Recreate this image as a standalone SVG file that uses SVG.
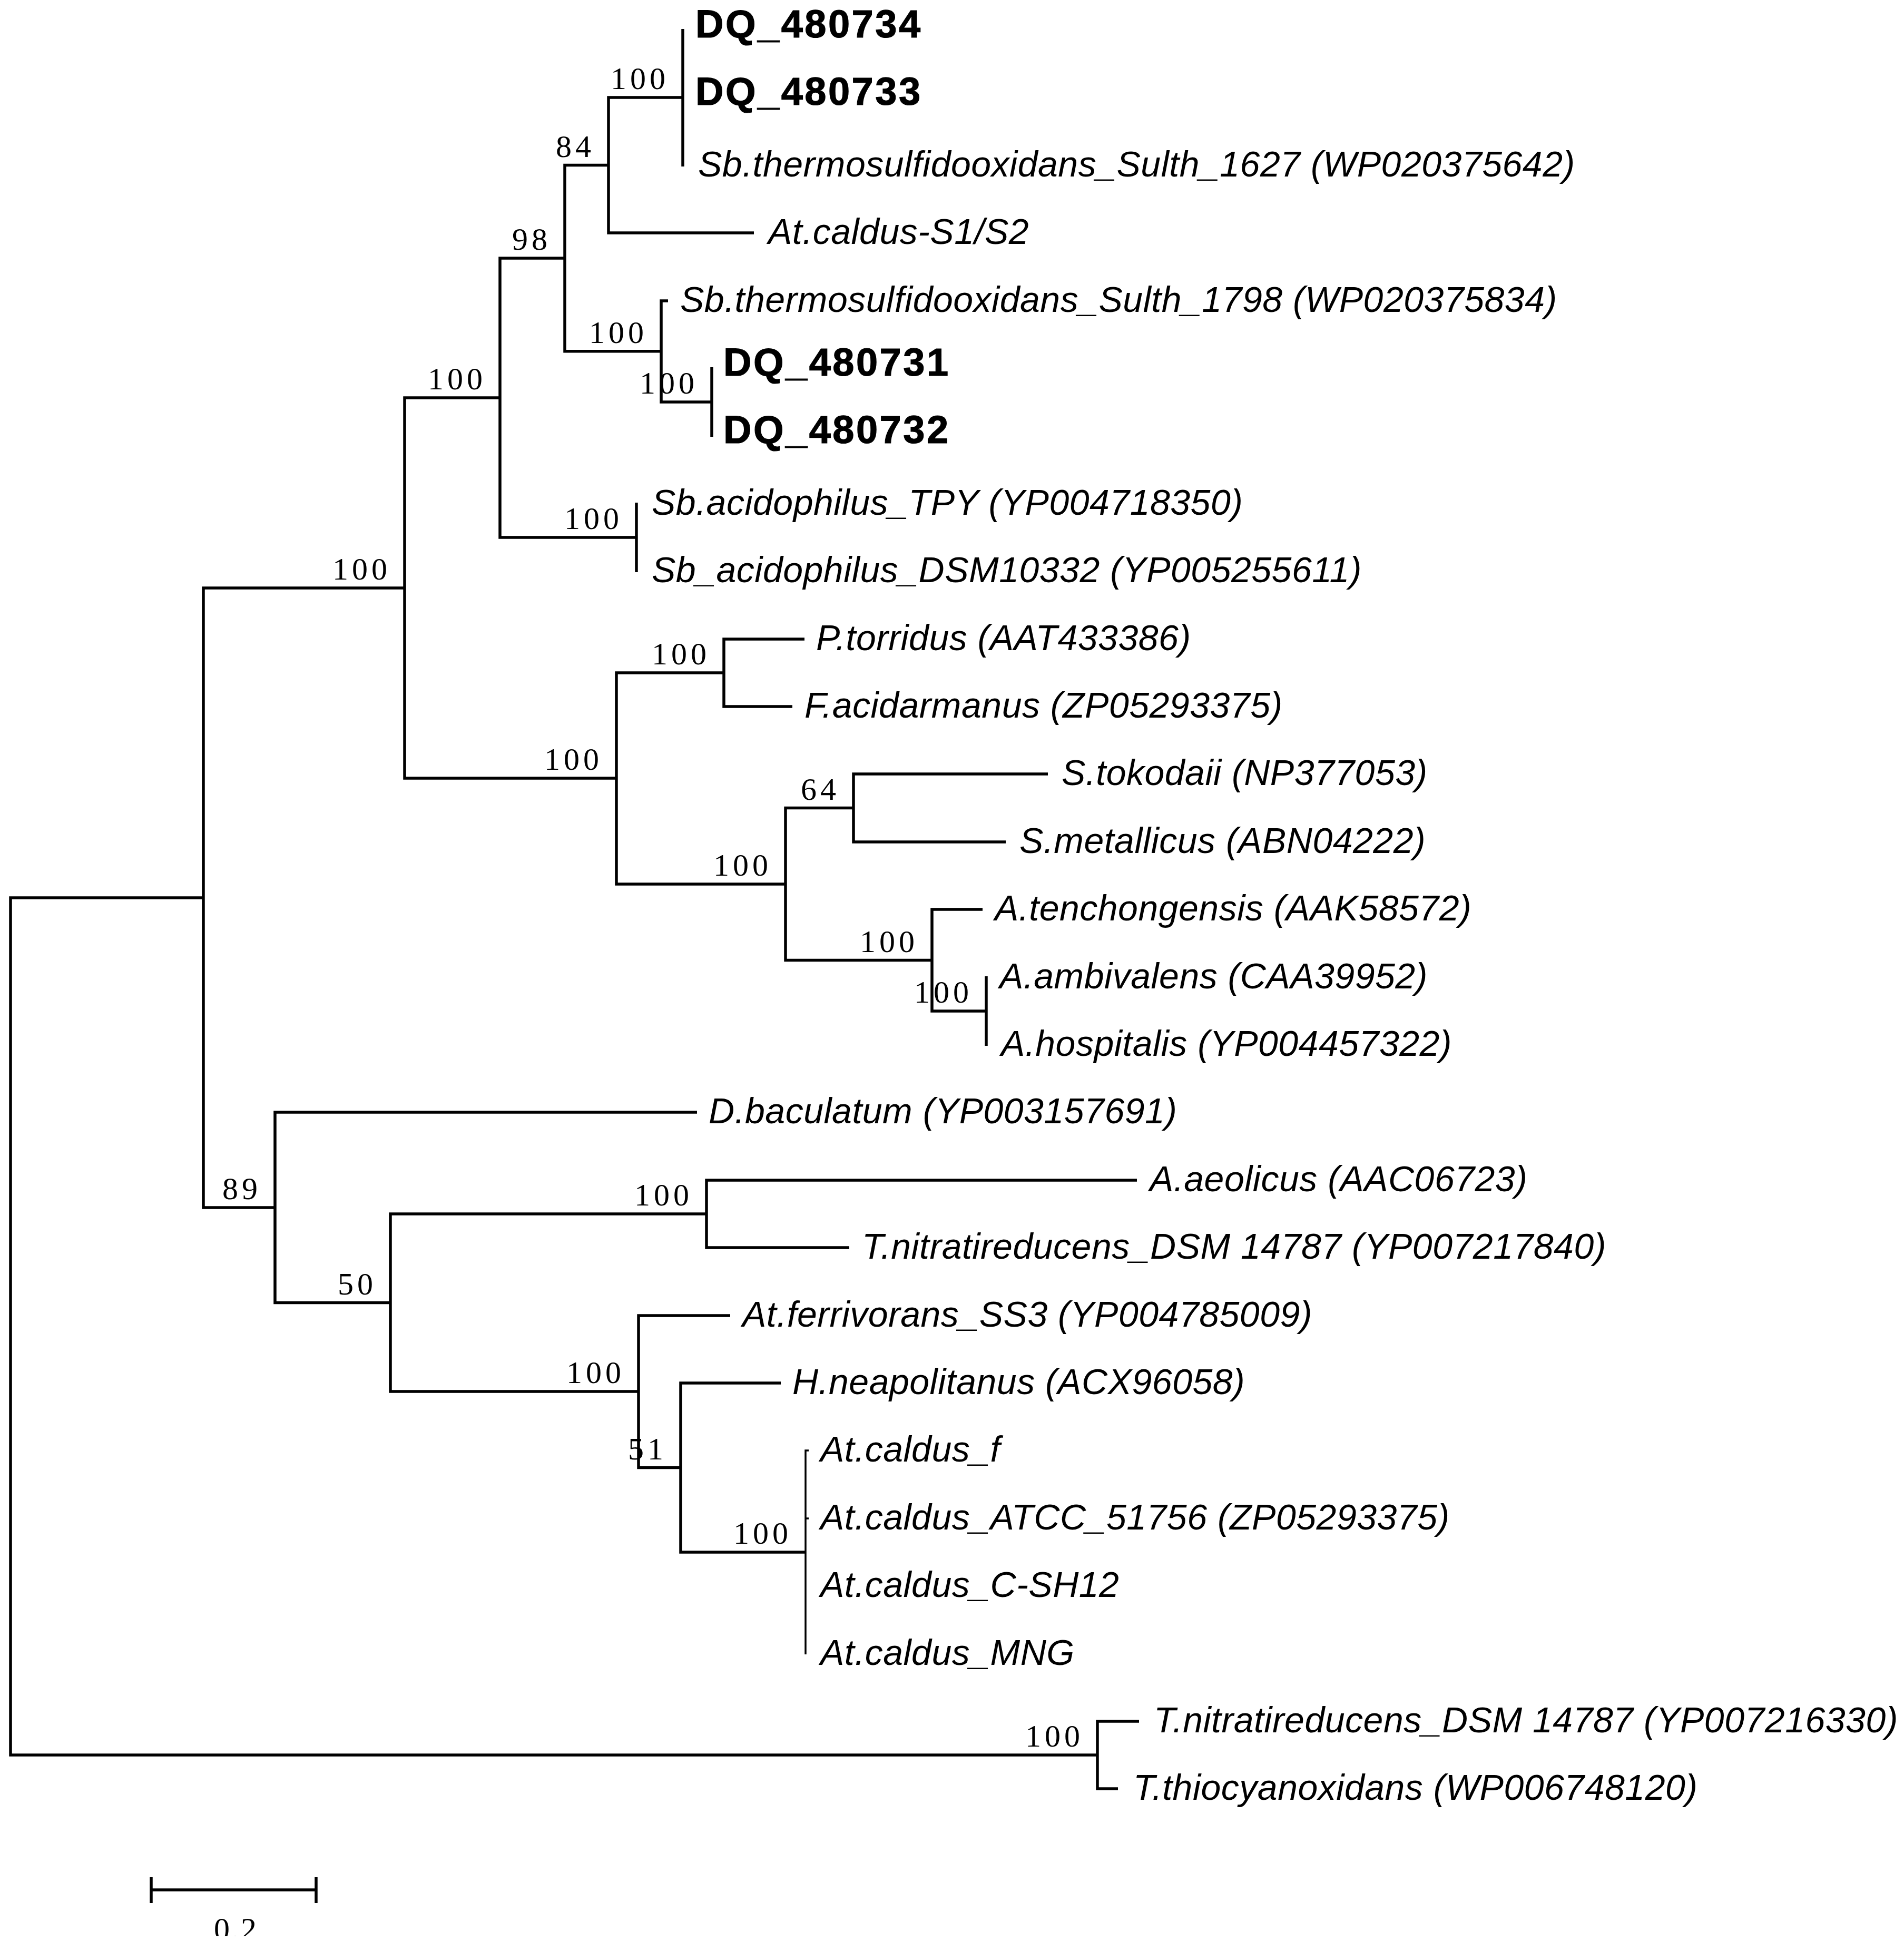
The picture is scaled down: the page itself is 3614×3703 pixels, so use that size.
<svg xmlns="http://www.w3.org/2000/svg" width="3614" height="3703" viewBox="0 0 3614 3703">
<style>
.br{fill:none;stroke:#000;stroke-width:5.5;stroke-linejoin:miter;stroke-linecap:butt}
.thin{stroke-width:3.5}
.tx{font-family:"Liberation Sans",Arial,sans-serif;font-style:italic;font-size:68px;letter-spacing:0.5px;fill:#000}
.bd{font-family:"Liberation Sans",Arial,sans-serif;font-weight:bold;font-size:74px;letter-spacing:3.5px;fill:#000;stroke:#000;stroke-width:1.2px}
.bs{font-family:"Liberation Serif","Times New Roman",serif;font-size:60px;letter-spacing:7px;fill:#000;text-anchor:end}
</style>
<defs><clipPath id="cut"><rect x="0" y="3600" width="900" height="75"/></clipPath></defs>
<rect width="3614" height="3703" fill="#fff"/>
<g id="connectors">
<path class="br" d="M1296,55 V316"/>
<path class="br" d="M1296,185 H1155 V442 H1431"/>
<path class="br" d="M1268,571 H1255 V763 H1351"/>
<path class="br" d="M1351,697 V829"/>
<path class="br" d="M1155,313.5 H1072 V666.8 H1255"/>
<path class="br" d="M1208,954 V1086"/>
<path class="br" d="M1072,490 H949 V1020 H1208"/>
<path class="br" d="M1527,1213 H1374 V1341 H1504"/>
<path class="br" d="M1989,1469 H1620 V1598 H1909"/>
<path class="br" d="M1872,1853 V1985"/>
<path class="br" d="M1865,1726 H1769 V1919 H1872"/>
<path class="br" d="M1620,1533.6 H1491 V1822.5 H1769"/>
<path class="br" d="M1374,1277 H1170 V1678 H1491"/>
<path class="br" d="M949,755 H768 V1477 H1170"/>
<path class="br" d="M768,1116 H386 V2292 H522"/>
<path class="br" d="M1323,2111 H522 V2472.5 H741"/>
<path class="br" d="M1341,2304 H741 V2641 H1212"/>
<path class="br" d="M2158,2240 H1341 V2368 H1612"/>
<path class="br" d="M1386,2497 H1212 V2785.5 H1292"/>
<path class="br" d="M1482,2625 H1292 V2946 H1529"/>
<path class="br thin" d="M1535,2753 H1529 V3140 M1529,2882 H1535"/>
<path class="br" d="M2162,3267 H2083 V3395 H2122"/>
<path class="br" d="M386,1704 H20 V3331 H2083"/>
</g>
<g id="internal-nodes">
<g id="n-dq34"><text class="bs" x="1270" y="169">100</text></g>
<g id="n-84"><text class="bs" x="1129" y="297.5">84</text></g>
<g id="n-1798"><text class="bs" x="1229" y="650.8">100</text></g>
<g id="n-dq31"><text class="bs" x="1325" y="747">100</text></g>
<g id="n-98"><text class="bs" x="1046" y="474">98</text></g>
<g id="n-sbacid"><text class="bs" x="1182" y="1004">100</text></g>
<g id="n-sb"><text class="bs" x="923" y="739">100</text></g>
<g id="n-ptorr"><text class="bs" x="1348" y="1261">100</text></g>
<g id="n-64"><text class="bs" x="1594" y="1517.6">64</text></g>
<g id="n-aamb"><text class="bs" x="1846" y="1902.8">100</text></g>
<g id="n-atench"><text class="bs" x="1743" y="1806.5">100</text></g>
<g id="n-sulfo"><text class="bs" x="1465" y="1662">100</text></g>
<g id="n-arch"><text class="bs" x="1144" y="1461.4">100</text></g>
<g id="n-top"><text class="bs" x="742" y="1100">100</text></g>
<g id="n-aaeol"><text class="bs" x="1315" y="2288">100</text></g>
<g id="n-caldus"><text class="bs" x="1503" y="2930">100</text></g>
<g id="n-51"><text class="bs" x="1266" y="2769.5">51</text></g>
<g id="n-ferri"><text class="bs" x="1186" y="2625">100</text></g>
<g id="n-50"><text class="bs" x="715" y="2456.5">50</text></g>
<g id="n-89"><text class="bs" x="496" y="2276">89</text></g>
<g id="n-tnit"><text class="bs" x="2057" y="3315">100</text></g>
</g>
<g id="taxa">
<g id="t0"><text class="bd" x="1320" y="71">DQ_480734</text></g>
<g id="t1"><text class="bd" x="1320" y="199">DQ_480733</text></g>
<g id="t2"><text class="tx" x="1325" y="335">Sb.thermosulfidooxidans_Sulth_1627 (WP020375642)</text></g>
<g id="t3"><text class="tx" x="1458" y="463">At.caldus-S1/S2</text></g>
<g id="t4"><text class="tx" x="1291" y="592">Sb.thermosulfidooxidans_Sulth_1798 (WP020375834)</text></g>
<g id="t5"><text class="bd" x="1373" y="713">DQ_480731</text></g>
<g id="t6"><text class="bd" x="1373" y="841">DQ_480732</text></g>
<g id="t7"><text class="tx" x="1237" y="977">Sb.acidophilus_TPY (YP004718350)</text></g>
<g id="t8"><text class="tx" x="1237" y="1105">Sb_acidophilus_DSM10332 (YP005255611)</text></g>
<g id="t9"><text class="tx" x="1549" y="1234">P.torridus (AAT433386)</text></g>
<g id="t10"><text class="tx" x="1527" y="1362">F.acidarmanus (ZP05293375)</text></g>
<g id="t11"><text class="tx" x="2015" y="1490">S.tokodaii (NP377053)</text></g>
<g id="t12"><text class="tx" x="1935" y="1619">S.metallicus (ABN04222)</text></g>
<g id="t13"><text class="tx" x="1888" y="1747">A.tenchongensis (AAK58572)</text></g>
<g id="t14"><text class="tx" x="1897" y="1876">A.ambivalens (CAA39952)</text></g>
<g id="t15"><text class="tx" x="1900" y="2004">A.hospitalis (YP004457322)</text></g>
<g id="t16"><text class="tx" x="1345" y="2132">D.baculatum (YP003157691)</text></g>
<g id="t17"><text class="tx" x="2182" y="2261">A.aeolicus (AAC06723)</text></g>
<g id="t18"><text class="tx" x="1636" y="2389">T.nitratireducens_DSM 14787 (YP007217840)</text></g>
<g id="t19"><text class="tx" x="1409" y="2518">At.ferrivorans_SS3 (YP004785009)</text></g>
<g id="t20"><text class="tx" x="1504" y="2646">H.neapolitanus (ACX96058)</text></g>
<g id="t21"><text class="tx" x="1557" y="2774">At.caldus_f</text></g>
<g id="t22"><text class="tx" x="1557" y="2903">At.caldus_ATCC_51756 (ZP05293375)</text></g>
<g id="t23"><text class="tx" x="1557" y="3031">At.caldus_C-SH12</text></g>
<g id="t24"><text class="tx" x="1557" y="3160">At.caldus_MNG</text></g>
<g id="t25"><text class="tx" x="2190" y="3288">T.nitratireducens_DSM 14787 (YP007216330)</text></g>
<g id="t26"><text class="tx" x="2151" y="3416">T.thiocyanoxidans (WP006748120)</text></g>
</g>
<g id="scale-bar">
<path class="br" d="M287,3587 H600 M287,3563 V3612 M600,3563 V3612"/>
<text clip-path="url(#cut)" x="448" y="3681" style="font-family:'Liberation Serif','Times New Roman',serif;font-size:60px;letter-spacing:3px;text-anchor:middle;fill:#000">0.2</text>
</g>
</svg>
